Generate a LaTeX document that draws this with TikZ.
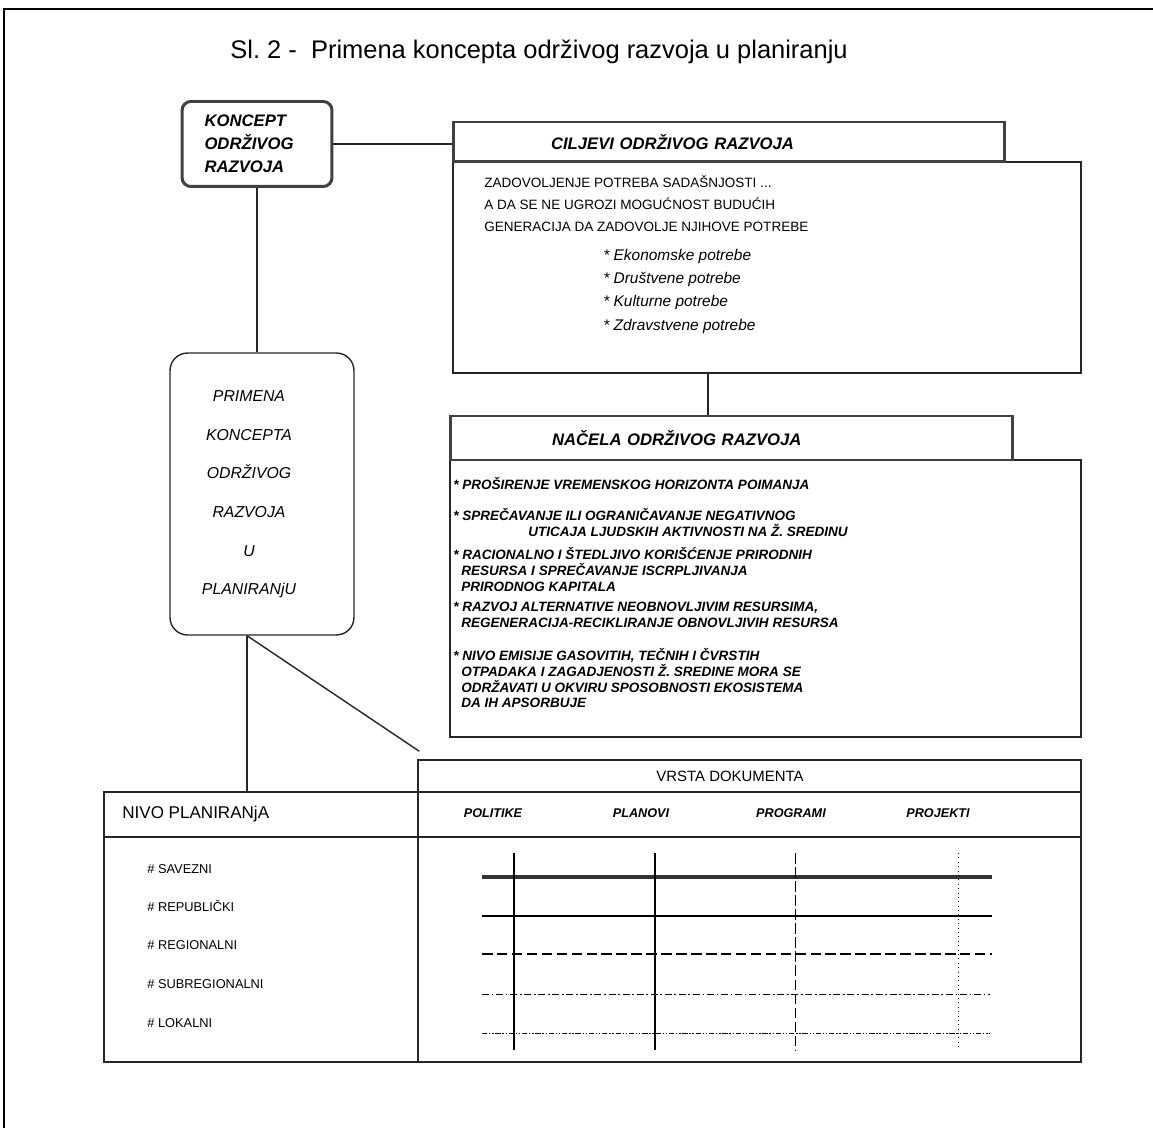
\documentclass[tikz,border=0pt]{standalone}
\usepackage{fontspec}
\setmainfont{Liberation Sans}
\usetikzlibrary{calc}

\tikzset{
  kutija/.style={draw=black!85,line width=0.8pt},
  naslovna/.style={draw=black!75,line width=1.7pt},
  tekst/.style={inner sep=0pt,align=left},
  stavka/.style={anchor=north west,inner sep=0pt,align=left,font=\bfseries\itshape\fontsize{7.7}{9}\selectfont},
  nivoi/.style={anchor=west,inner sep=0pt,font=\fontsize{7.3}{8}\selectfont},
  dokumenti/.style={inner sep=0pt,font=\bfseries\itshape\fontsize{7.2}{8}\selectfont}
}

\begin{document}
\begin{tikzpicture}[x=0.02cm,y=-0.02cm]
        \useasboundingbox (0,0) rectangle (1153,1128);
        %%%%%%%%%% Okvir %%%%%%%%%%
        \draw[line width=0.9pt] (4,1128) -- (4,9) -- (1153,9);
        \node (naslov) at (230,52) [anchor=west,inner sep=0pt,font=\fontsize{14.5}{17}\selectfont] {Sl.~2 -\ \ Primena koncepta održivog razvoja u planiranju};

        %%%%%%%%%% Nodi %%%%%%%%%%
        \node (koncept) at (257,144) [naslovna,rounded corners=5pt,minimum width=3cm,minimum height=1.7cm,text width=2.1cm,align=left,font=\bfseries\itshape\fontsize{9.5}{13}\selectfont] {KONCEPT\\ODRŽIVOG\\RAZVOJA};

        \node (ciljeviT) at (767,267.5) [kutija,minimum width=12.56cm,minimum height=4.22cm] {};
        \node (ciljevi) at (729,142) [naslovna,fill=white,minimum width=11.04cm,minimum height=0.8cm,text width=7.12cm,align=left,font=\bfseries\itshape\fontsize{9.5}{11}\selectfont] {CILJEVI ODRŽIVOG RAZVOJA};
        \node (ciljeviA) at (484,175) [anchor=north west,tekst,font=\fontsize{7.7}{12.75}\selectfont] {ZADOVOLJENJE POTREBA SADAŠNJOSTI ...\\A DA SE NE UGROZI MOGUĆNOST BUDUĆIH\\GENERACIJA DA ZADOVOLJE NJIHOVE POTREBE};
        \node (ciljeviB) at (603,249) [anchor=north west,tekst,font=\itshape\fontsize{8.8}{13.2}\selectfont] {* Ekonomske potrebe\\* Društvene potrebe\\* Kulturne potrebe\\* Zdravstvene potrebe};

        \node (nacelaT) at (765.5,598.5) [kutija,minimum width=12.62cm,minimum height=5.54cm] {};
        \node (nacela) at (731.5,438) [naslovna,fill=white,minimum width=11.26cm,minimum height=0.88cm,text width=7.18cm,align=left,font=\bfseries\itshape\fontsize{9.5}{11}\selectfont] {NAČELA ODRŽIVOG RAZVOJA};
        \node (nacela1) at (453,477) [stavka] {* PROŠIRENJE VREMENSKOG HORIZONTA POIMANJA};
        \node (nacela2) at (453,508) [stavka] {* SPREČAVANJE ILI OGRANIČAVANJE NEGATIVNOG\\\hspace*{1.5cm}UTICAJA LJUDSKIH AKTIVNOSTI NA Ž. SREDINU};
        \node (nacela3) at (453,547) [stavka] {* RACIONALNO I ŠTEDLJIVO KORIŠĆENJE PRIRODNIH\\\hspace*{0.16cm}RESURSA I SPREČAVANJE ISCRPLJIVANJA\\\hspace*{0.16cm}PRIRODNOG KAPITALA};
        \node (nacela4) at (453,602) [stavka] {* RAZVOJ ALTERNATIVE NEOBNOVLJIVIM RESURSIMA,\\\hspace*{0.16cm}REGENERACIJA-RECIKLIRANJE OBNOVLJIVIH RESURSA};
        \node (nacela5) at (453,648) [stavka] {* NIVO EMISIJE GASOVITIH, TEČNIH I ČVRSTIH\\\hspace*{0.16cm}OTPADAKA I ZAGADJENOSTI Ž. SREDINE MORA SE\\\hspace*{0.16cm}ODRŽAVATI U OKVIRU SPOSOBNOSTI EKOSISTEMA\\\hspace*{0.16cm}DA IH APSORBUJE};

        \node (primena) at (262,494) [kutija,rounded corners=10pt,minimum width=3.68cm,minimum height=5.64cm] {};
        \node (primenaT) at (249,494.5) [inner sep=0pt,align=center,font=\itshape\fontsize{9}{22}\selectfont] {PRIMENA\\KONCEPTA\\ODRŽIVOG\\RAZVOJA\\U\\PLANIRANjU};

        %%%%%%%%%% Tabela %%%%%%%%%%
        \node (vrsta) at (749.5,776) [kutija,minimum width=13.26cm,minimum height=0.64cm,font=\fontsize{8.5}{9}\selectfont] {VRSTA DOKUMENTA\hspace*{0.78cm}};
        \node (nivo) at (261,927) [kutija,minimum width=6.28cm,minimum height=5.4cm] {};
        \node (dokument) at (749.5,927) [kutija,minimum width=13.26cm,minimum height=5.4cm] {};
        \draw[kutija] (nivo.west |- 0,837) -- (dokument.east |- 0,837);
        \node (nivoT) at (122,814) [anchor=west,inner sep=0pt,font=\fontsize{9.7}{11}\selectfont] {NIVO PLANIRANjA};
        \node (politike) at (493,813) [dokumenti] {POLITIKE};
        \node (planovi) at (641,813) [dokumenti] {PLANOVI};
        \node (programi) at (791,813) [dokumenti] {PROGRAMI};
        \node (projekti) at (938,813) [dokumenti] {PROJEKTI};
        \node (savezni) at (147,869) [nivoi] {\# SAVEZNI};
        \node (republicki) at (147,906) [nivoi] {\# REPUBLIČKI};
        \node (regionalni) at (147,945) [nivoi] {\# REGIONALNI};
        \node (subregionalni) at (147,984) [nivoi] {\# SUBREGIONALNI};
        \node (lokalni) at (147,1023) [nivoi] {\# LOKALNI};

        \draw[line width=2.2pt,black!80] (482,877) -- (992,877);
        \draw[line width=1.1pt] (482,916) -- (992,916);
        \draw[line width=0.7pt,dash pattern=on 6pt off 2.5pt] (482,954) -- (992,954);
        \draw[line width=0.5pt,dash pattern=on 4pt off 1.5pt on 1pt off 1.5pt] (482,994) -- (990,994);
        \draw[line width=0.5pt,dash pattern=on 3pt off 1pt on 0.8pt off 1pt on 0.8pt off 1pt] (482,1033) -- (990,1033);
        \draw[line width=1.4pt] (514,853) -- (514,1050);
        \draw[line width=0.9pt] (655,853) -- (655,1050);
        \draw[line width=0.5pt,dash pattern=on 6pt off 2pt] (795,853) -- (795,1050);
        \draw[line width=0.5pt,dotted] (958,853) -- (958,1050);

        %%%%%%%%% Linije %%%%%%%%%
        \draw[kutija] (koncept.east) -- (koncept.east -| ciljevi.west);
        \draw[kutija] (koncept.south) -- (koncept.south |- primena.north);
        \draw[kutija] ([xshift=-1.18cm]ciljeviT.south) -- ([xshift=-1.18cm]ciljeviT.south |- nacela.north);
        \coordinate (primenaDno) at ([xshift=-0.3cm]primena.south);
        \coordinate (kosa) at ([shift={(0.04cm,0.16cm)}]vrsta.north west);
        \draw[kutija] (primenaDno) -- (primenaDno |- nivo.north);
        \draw[kutija] (primenaDno) -- (kosa);
\end{tikzpicture}
\end{document}
